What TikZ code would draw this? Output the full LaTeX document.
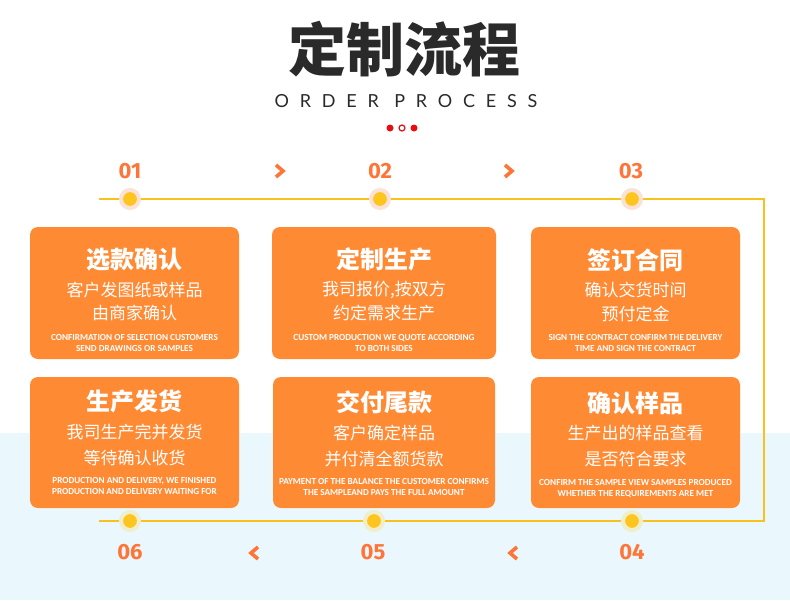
\documentclass[tikz,border=0pt]{standalone}
\usepackage{fontspec}
\newfontfamily\cjk{Noto Sans CJK SC}
\newfontfamily\latinspaced[LetterSpace=60]{Lato}
\newfontfamily\numfont{Fira Sans}
\newfontfamily\engfont{Carlito}
\usepackage{xcolor}
\usetikzlibrary{positioning}
\definecolor{boxorange}{HTML}{FF8A34}
\definecolor{numorange}{HTML}{FF7437}
\definecolor{lineyellow}{HTML}{F8C21B}
\definecolor{dotyellow}{HTML}{FDC51E}
\definecolor{halotop}{HTML}{FCE2D6}
\definecolor{halobot}{HTML}{F0EFCB}
\definecolor{bandblue}{HTML}{EAF8FD}
\definecolor{titlegray}{HTML}{2A2A2A}
\definecolor{dotred}{HTML}{E60E12}

\begin{document}
\begin{tikzpicture}[x=1pt, y=-1pt,
  stepbox/.style={fill=boxorange, rounded corners=8pt, inner sep=0pt},
  boxtitle/.style={text=white, inner sep=0pt, font=\cjk\bfseries\fontsize{24}{24}\selectfont},
  boxline/.style={text=white, inner sep=0pt, font=\cjk\fontsize{17}{17}\selectfont},
  boxeng/.style={text=white, inner sep=0pt, align=center, font=\engfont\bfseries\fontsize{9.2}{11}\selectfont},
  stepnum/.style={text=numorange, inner sep=0pt, font=\numfont\bfseries\fontsize{22}{22}\selectfont},
  chev/.style={draw=numorange, line width=3.6pt, line join=miter},
  tline/.style={draw=lineyellow, line width=2.2pt},
  dot/.style={circle, fill=dotyellow, inner sep=0pt, minimum size=18pt, line width=4pt}]
% canvas
\useasboundingbox (0,0) rectangle (790,600);
\fill[white] (0,0) rectangle (790,600);
\fill[bandblue] (0,433) rectangle (790,600);

% heading
\node (title) at (404,49) [text=titlegray, inner sep=0pt, font=\cjk\bfseries\fontsize{58}{58}\selectfont] {定制流程};
\node (subtitle) at (406,101) [text=titlegray, inner sep=0pt, font=\latinspaced\fontsize{18}{18}\selectfont] {ORDER PROCESS};
\node (rdot1) at (390,128) [circle, fill=dotred, inner sep=0pt, minimum size=7pt] {};
\node (rdot2) at (402,128) [circle, draw=dotred, line width=1.2pt, inner sep=0pt, minimum size=6pt] {};
\node (rdot3) at (414,128) [circle, fill=dotred, inner sep=0pt, minimum size=7pt] {};

% timeline
\coordinate (topL) at (99,199);
\coordinate (cornerT) at (764,199);
\coordinate (cornerB) at (764,521);
\coordinate (botL) at (99,521);
\draw[tline] (topL) -- (cornerT) -- (cornerB) -- (botL);

\node (d1) at (130,199) [dot, draw=halotop] {};
\node (d2) at (380,199) [dot, draw=halotop] {};
\node (d3) at (632,199) [dot, draw=halotop] {};
\node (d4) at (632,521) [dot, draw=halobot] {};
\node (d5) at (374,521) [dot, draw=halobot] {};
\node (d6) at (130,521) [dot, draw=halobot] {};

\node (n1) at (130,171) [stepnum] {01};
\node (n2) at (380,171) [stepnum] {02};
\node (n3) at (631,171) [stepnum] {03};
\node (n4) at (632,552) [stepnum] {04};
\node (n5) at (373,552) [stepnum] {05};
\node (n6) at (130,552) [stepnum] {06};

\draw[chev] (276,165) -- (283,171) -- (276,177);
\draw[chev] (505,165) -- (512,171) -- (505,177);
\draw[chev] (258,547) -- (251,553) -- (258,559);
\draw[chev] (517,547) -- (510,553) -- (517,559);

% row 1
\node (s1) at (134.5,293) [stepbox, minimum width=209pt, minimum height=132pt] {};
\node (s1t) at (134.5,260) [boxtitle] {选款确认};
\node (s1a) at (134.5,290) [boxline] {客户发图纸或样品};
\node (s1b) at (134.5,313) [boxline] {由商家确认};
\node (s1e) at (134.5,343.5) [boxeng] {CONFIRMATION OF SELECTION CUSTOMERS\\SEND DRAWINGS OR SAMPLES};

\node (s2) at (384,293) [stepbox, minimum width=224pt, minimum height=132pt] {};
\node (s2t) at (384,259) [boxtitle] {定制生产};
\node (s2a) at (384,290) [boxline] {我司报价,按双方};
\node (s2b) at (384,313) [boxline] {约定需求生产};
\node (s2e) at (384,343.5) [boxeng] {CUSTOM PRODUCTION WE QUOTE ACCORDING\\TO BOTH SIDES};

\node (s3) at (635.5,293) [stepbox, minimum width=209pt, minimum height=132pt] {};
\node (s3t) at (635.5,260) [boxtitle] {签订合同};
\node (s3a) at (635.5,290) [boxline] {确认交货时间};
\node (s3b) at (635.5,314) [boxline] {预付定金};
\node (s3e) at (635.5,343.5) [boxeng] {SIGN THE CONTRACT CONFIRM THE DELIVERY\\TIME AND SIGN THE CONTRACT};

% row 2
\node (s4) at (134.5,442.5) [stepbox, minimum width=209pt, minimum height=131pt] {};
\node (s4t) at (134.5,401) [boxtitle] {生产发货};
\node (s4a) at (134.5,432) [boxline] {我司生产完并发货};
\node (s4b) at (134.5,458) [boxline] {等待确认收货};
\node (s4e) at (134.5,486.5) [boxeng] {PRODUCTION AND DELIVERY, WE FINISHED\\PRODUCTION AND DELIVERY WAITING FOR};

\node (s5) at (384,442.5) [stepbox, minimum width=222pt, minimum height=131pt] {};
\node (s5t) at (384,402) [boxtitle] {交付尾款};
\node (s5a) at (384,433) [boxline] {客户确定样品};
\node (s5b) at (384,459) [boxline] {并付清全额货款};
\node (s5e) at (384,487.5) [boxeng] {PAYMENT OF THE BALANCE THE CUSTOMER CONFIRMS\\THE SAMPLEAND PAYS THE FULL AMOUNT};

\node (s6) at (635.5,442.5) [stepbox, minimum width=209pt, minimum height=131pt] {};
\node (s6t) at (635.5,403) [boxtitle] {确认样品};
\node (s6a) at (635.5,433) [boxline] {生产出的样品查看};
\node (s6b) at (635.5,459) [boxline] {是否符合要求};
\node (s6e) at (635.5,489) [boxeng] {CONFIRM THE SAMPLE VIEW SAMPLES PRODUCED\\WHETHER THE REQUIREMENTS ARE MET};
\end{tikzpicture}
\end{document}
